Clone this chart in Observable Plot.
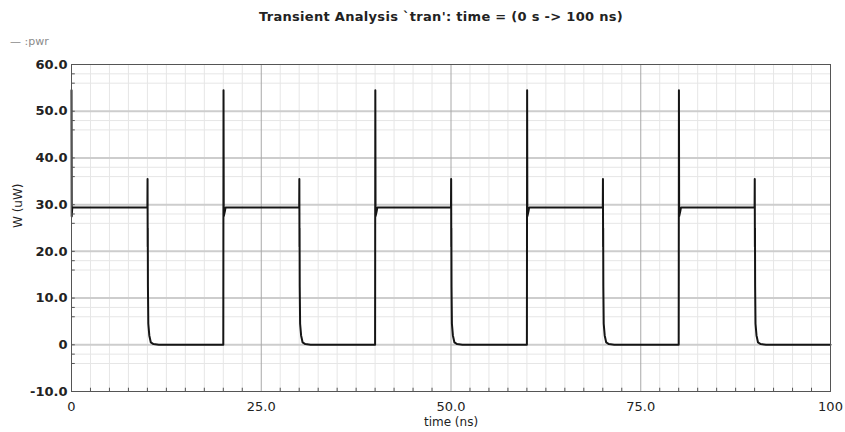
<!DOCTYPE html>
<html>
<head>
<meta charset="utf-8">
<script src="https://cdn.jsdelivr.net/npm/d3@7"></script>
<script src="https://cdn.jsdelivr.net/npm/@observablehq/plot@0.6"></script>
<style>
  html, body { margin: 0; padding: 0; background: #fff; }
  #wrap { position: relative; width: 845px; height: 432px; }
  #title { position: absolute; left: 0; width: 882px; top: 9px; text-align: center;
    font-family: "DejaVu Sans", sans-serif; font-size: 13px; font-weight: bold; letter-spacing: 0.3px; color: #222; }
  #legend { position: absolute; left: 10px; top: 35px; font-family: "DejaVu Sans", sans-serif;
    font-size: 11px; color: #8a8a8a; }
  #chart { position: absolute; left: 0; top: 0; }
</style>
</head>
<body>
<div id="wrap">
  <div id="chart"></div>
  <div id="title">Transient Analysis `tran': time = (0 s -&gt; 100 ns)</div>
  <div id="legend">— :pwr</div>
</div>
<script>
// Waveform samples (time in ns, power in uW)
const time = [
  0, 0.03, 0.1,
  10.0, 10.02, 10.04, 10.05, 10.07, 10.12, 10.25, 10.45, 10.8, 11.5,
  20.0, 20.03, 20.06, 20.2, 20.3,
  30.0, 30.02, 30.04, 30.05, 30.07, 30.12, 30.25, 30.45, 30.8, 31.5,
  40.0, 40.03, 40.06, 40.2, 40.3,
  50.0, 50.02, 50.04, 50.05, 50.07, 50.12, 50.25, 50.45, 50.8, 51.5,
  60.0, 60.03, 60.06, 60.2, 60.3,
  70.0, 70.02, 70.04, 70.05, 70.07, 70.12, 70.25, 70.45, 70.8, 71.5,
  80.0, 80.03, 80.06, 80.2, 80.3,
  90.0, 90.02, 90.04, 90.05, 90.07, 90.12, 90.25, 90.45, 90.8, 91.5,
  100
];
const pwr = [
  54.5, 27.5, 29.4,
  29.4, 35.5, 21.0, 25.0, 12.5, 4.5, 2.0, 0.5, 0.15, 0.03,
  0.0, 54.5, 27.5, 28.5, 29.4,
  29.4, 35.5, 21.0, 25.0, 12.5, 4.5, 2.0, 0.5, 0.15, 0.03,
  0.0, 54.5, 27.5, 28.5, 29.4,
  29.4, 35.5, 21.0, 25.0, 12.5, 4.5, 2.0, 0.5, 0.15, 0.03,
  0.0, 54.5, 27.5, 28.5, 29.4,
  29.4, 35.5, 21.0, 25.0, 12.5, 4.5, 2.0, 0.5, 0.15, 0.03,
  0.0, 54.5, 27.5, 28.5, 29.4,
  29.4, 35.5, 21.0, 25.0, 12.5, 4.5, 2.0, 0.5, 0.15, 0.03,
  0.0
];

// Axis / grid tick values
const xMajor = [0, 25, 50, 75, 100];
const xLabels = ["0", "25.0", "50.0", "75.0", "100"];
const xMinor = [2.5, 5, 7.5, 10, 12.5, 15, 17.5, 20, 22.5, 27.5, 30, 32.5, 35, 37.5, 40, 42.5, 45, 47.5,
  52.5, 55, 57.5, 60, 62.5, 65, 67.5, 70, 72.5, 77.5, 80, 82.5, 85, 87.5, 90, 92.5, 95, 97.5];
const yMajor = [-10, 0, 10, 20, 30, 40, 50, 60];
const yLabels = ["-10.0", "0", "10.0", "20.0", "30.0", "40.0", "50.0", "60.0"];
const yMinor = [-4, -2, 6, 8, 16, 18, 26, 28, 36, 38, 46, 48, 56, 58];

const data = time.map((t, i) => ({t, p: pwr[i]}));

const chart = Plot.plot({
  width: 845,
  height: 432,
  marginLeft: 71,
  marginRight: 15,
  marginTop: 64,
  marginBottom: 41,
  x: {domain: [0, 100]},
  y: {domain: [-10, 60]},
  style: {fontFamily: "DejaVu Sans, sans-serif", background: "white", color: "#222"},
  marks: [
    Plot.ruleX(xMinor, {stroke: "#e6e6e6", strokeWidth: 1}),
    Plot.ruleY(yMinor, {stroke: "#e6e6e6", strokeWidth: 1}),
    Plot.ruleY(yMajor.slice(1, -1), {stroke: "#cdcdcd", strokeWidth: 2}),
    Plot.ruleX(xMajor.slice(1, -1), {stroke: "#a8a8a8", strokeWidth: 1}),
    Plot.line(data, {x: "t", y: "p", stroke: "#151515", strokeWidth: 2}),
    Plot.frame({stroke: "#555"}),
    Plot.ruleY(yMinor.concat(yMajor), {x1: 0, x2: 0.5, stroke: "#555"}),
    Plot.ruleX(xMinor, {y1: -10, y2: -9.3, stroke: "#555"}),
    Plot.axisY({ticks: yMajor, tickSize: 0, tickPadding: 4, fontSize: 13, fontWeight: "bold",
      tickFormat: d => yLabels[yMajor.indexOf(d)], label: null}),
    Plot.axisX({ticks: xMajor, tickSize: 0, tickPadding: 10, fontSize: 13,
      tickFormat: d => xLabels[xMajor.indexOf(d)], label: null}),
    Plot.text(["W (uW)"], {frameAnchor: "left", dx: -53, rotate: -90, fontSize: 12, fill: "#222"}),
    Plot.text(["time (ns)"], {frameAnchor: "bottom", dy: 34, fontSize: 12, fill: "#222"})
  ]
});
document.getElementById("chart").appendChild(chart);
</script>
</body>
</html>
